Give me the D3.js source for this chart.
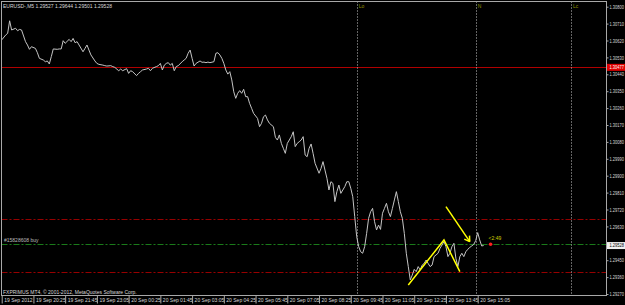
<!DOCTYPE html>
<meta charset="utf-8">
<script src="https://cdn.jsdelivr.net/npm/d3@7"></script>
<style type="text/css">
  body { margin: 0; background: #000; }
  svg text { font-family: "Liberation Sans", Arial, sans-serif; font-size: 5px; fill: #d8d8d8; }
  .price { fill: none; stroke: #c4c4c4; stroke-width: 1; }
  .frame { fill: none; stroke: #a8a8a8; stroke-width: 1; }
  .session { stroke: #c8c8c8; stroke-width: 1; stroke-dasharray: 1,2; }
  .draw { fill: none; stroke: #ffff00; stroke-width: 1.5; }
</style>
<body>
<script>

// EURUSD M5 closes (bar index from 19 Sep 19:05)
var bars = [0,2,3,4,5,7,8,9,10,12,13,14,15,17,18,19,21,22,23,24,25,26,28,29,30,31,32,34,35,36,37,38,39,41,42,43,44,45,47,48,49,51,52,53,55,56,57,59,60,61,63,64,65,66,68,69,70,71,73,74,75,76,78,79,80,81,82,83,84,85,86,87,88,89,91,92,93,94,95,96,97,98,100,101,102,103,104,105,107,108,109,110,111,112,113,114,115,116,117,118,119,120,121,122,123,124,125,126,127,129,130,131,132,133,134,135,137,138,139,140,141,142,143,144,146,147,148,149,150,151,152,153,154,155,156,157,158,160,161,162,163,164,165,166,167,168,169,170,171,173,174,175,176,177,178,179,180,181,182,183,184,185,186,187,188,189,190,191,192,193,194,195,196,197,198,199,200,201,202,203,204,205,206,207,208,209,210,211,212,213,214,215,216,217,218,219,220,221,222,223,224,225,226,227,228,229,230,231,232,233,234,235,236,237,238,239,240,241,242,243];
var closes = [1.30623,1.30649,1.30658,1.30725,1.30676,1.30685,1.30672,1.30679,1.30676,1.30614,1.30596,1.30573,1.30587,1.30578,1.30555,1.30525,1.30516,1.30507,1.30511,1.30495,1.30534,1.30575,1.30573,1.30575,1.30575,1.30619,1.30605,1.30626,1.30614,1.30631,1.30608,1.30614,1.30596,1.30560,1.30578,1.30596,1.30569,1.30543,1.30511,1.30498,1.30493,1.30489,1.30486,1.30484,1.30486,1.30481,1.30477,1.30459,1.30468,1.30459,1.30470,1.30445,1.30459,1.30454,1.30433,1.30445,1.30454,1.30463,1.30468,1.30472,1.30459,1.30472,1.30481,1.30486,1.30498,1.30463,1.30489,1.30498,1.30502,1.30489,1.30498,1.30459,1.30481,1.30486,1.30507,1.30516,1.30525,1.30552,1.30569,1.30525,1.30484,1.30498,1.30511,1.30504,1.30505,1.30502,1.30505,1.30502,1.30507,1.30552,1.30555,1.30543,1.30525,1.30498,1.30463,1.30441,1.30454,1.30410,1.30347,1.30312,1.30339,1.30353,1.30339,1.30360,1.30321,1.30321,1.30285,1.30259,1.30232,1.30205,1.30161,1.30179,1.30214,1.30223,1.30197,1.30179,1.30161,1.30104,1.30090,1.30117,1.30072,1.30046,1.30019,1.30072,1.30108,1.30134,1.30055,1.30072,1.30081,1.30090,1.30108,1.30010,1.30001,1.30046,1.30069,1.30019,1.29966,1.29913,1.29939,1.29975,1.29930,1.29886,1.29824,1.29868,1.29859,1.29762,1.29815,1.29850,1.29806,1.29842,1.29868,1.29868,1.29833,1.29788,1.29682,1.29575,1.29522,1.29495,1.29487,1.29522,1.29593,1.29673,1.29708,1.29726,1.29655,1.29611,1.29637,1.29614,1.29700,1.29726,1.29753,1.29708,1.29682,1.29726,1.29771,1.29815,1.29762,1.29708,1.29673,1.29593,1.29487,1.29416,1.29345,1.29371,1.29401,1.29389,1.29416,1.29398,1.29424,1.29433,1.29451,1.29433,1.29416,1.29424,1.29469,1.29478,1.29487,1.29513,1.29531,1.29549,1.29522,1.29469,1.29487,1.29522,1.29540,1.29460,1.29416,1.29469,1.29487,1.29469,1.29495,1.29508,1.29518,1.29526,1.29534,1.29554,1.29597,1.29558,1.29526,1.29528];

var timeTicks = [0,16,32,48,64,80,96,112,128,144,160,176,192,208,224,240];
var timeLabels = ["19 Sep 2012","19 Sep 20:25","19 Sep 21:45","19 Sep 23:05","20 Sep 00:25","20 Sep 01:45",
  "20 Sep 03:05","20 Sep 04:25","20 Sep 05:45","20 Sep 07:05","20 Sep 08:25","20 Sep 09:45",
  "20 Sep 11:05","20 Sep 12:25","20 Sep 13:45","20 Sep 15:05"];
// 1.29540 sits under the bid tag, so it is not listed
var priceTicks = [1.30800,1.30710,1.30620,1.30530,1.30440,1.30350,1.30260,1.30170,1.30080,1.29990,
  1.29900,1.29810,1.29720,1.29630,1.29450,1.29360,1.29270];

// session separators (London open, New York, London close)
var sessionBars = [179, 239, 287];
var sessionLabels = ["Lo", "N", "Lc"];

// horizontal objects
var hLinePrice = 1.30477;
var tpPrice = 1.29668;
var slPrice = 1.29389;
var orderPrice = 1.29535;
var orderLabel = "#15828608 buy";
var bidPrice = 1.29528;
var timerBar = 246.5;
var timerText = "<2:49";

// hand drawn trend lines [bar, price]
var zigzag = [[205, 1.29318], [223, 1.29558], [231, 1.29389]];
var arrowLine = [[224, 1.29735], [236, 1.29549]];

var title = "EURUSD-,M5  1.29527 1.29644 1.29501 1.29528";
var copyright = "FXPRIMUS MT4, \u00a9 2001-2012, MetaQuotes Software Corp.";

var W = 625, H = 305;
var plot = {left: 1.5, right: 606.5, top: 1.5, bottom: 295.5};
var squeeze = 0.8;   // price labels are narrowed to fit the strip

var svg = d3.select("body").append("svg")
    .attr("width", W)
    .attr("height", H)
    .style("display", "block")
    .style("background", "#000");

var xScale = d3.scaleLinear().domain([0, 240]).range([1.7, 477.7]);
var yScale = d3.scaleLinear().domain([1.29270, 1.30800]).range([294, 6.7]);

svg.append("clipPath").attr("id", "clip")
  .append("rect")
    .attr("x", plot.left).attr("y", plot.top)
    .attr("width", plot.right - plot.left).attr("height", plot.bottom - plot.top);

var g = svg.append("g").attr("clip-path", "url(#clip)");

// horizontal levels
function hline(price, color, dash) {
  g.append("line")
    .attr("x1", plot.left).attr("x2", plot.right)
    .attr("y1", Math.round(yScale(price)) + 0.5).attr("y2", Math.round(yScale(price)) + 0.5)
    .style("stroke", color)
    .style("stroke-width", 1)
    .style("stroke-dasharray", dash);
}
hline(hLinePrice, "#b00000", null);
hline(tpPrice, "#960000", "6,2,2,2");
hline(slPrice, "#960000", "6,2,2,2");
hline(orderPrice, "#1a7a1a", "6,2,2,2");

// session lines
g.selectAll(".session")
  .data(sessionBars)
  .enter().append("line")
    .attr("class", "session")
    .attr("x1", d => Math.round(xScale(d)) + 0.5).attr("x2", d => Math.round(xScale(d)) + 0.5)
    .attr("y1", plot.top).attr("y2", plot.bottom);

g.selectAll(".sessionLabel")
  .data(sessionBars)
  .enter().append("text")
    .attr("x", d => xScale(d) + 2)
    .attr("y", 8)
    .style("fill", "#909000")
    .text((d, i) => sessionLabels[i]);

// price line
var line = d3.line()
    .x((d, i) => xScale(bars[i]))
    .y(d => yScale(d));

g.append("path")
  .attr("class", "price")
  .attr("d", line(closes));

// trend lines
var tl = d3.line().x(d => xScale(d[0])).y(d => yScale(d[1]));
g.append("path").attr("class", "draw").attr("d", tl(zigzag));
g.append("path").attr("class", "draw").attr("d", tl(arrowLine));

// arrow head
var tipX = xScale(arrowLine[1][0]), tipY = yScale(arrowLine[1][1]);
var ang = Math.atan2(tipY - yScale(arrowLine[0][1]), tipX - xScale(arrowLine[0][0]));
[-0.55, 0.55].forEach(function(a) {
  g.append("line")
    .attr("class", "draw")
    .attr("x1", tipX).attr("y1", tipY)
    .attr("x2", tipX - 6 * Math.cos(ang + a))
    .attr("y2", tipY - 6 * Math.sin(ang + a));
});

// order label, timer
g.append("text")
  .attr("x", 4).attr("y", yScale(orderPrice) - 2.5)
  .style("fill", "#bbbbbb")
  .text(orderLabel);

g.append("circle")
  .attr("cx", xScale(timerBar)).attr("cy", yScale(orderPrice))
  .attr("r", 1.8)
  .style("fill", "#ff2020");

g.append("text")
  .attr("x", xScale(timerBar) - 2).attr("y", yScale(orderPrice) - 4)
  .style("fill", "#d0d000")
  .text(timerText);

// header & footer text
svg.append("text").attr("x", 3).attr("y", 7.5).text(title);
svg.append("text").attr("x", 3).attr("y", 294).text(copyright);

// frame
svg.append("rect")
  .attr("class", "frame")
  .attr("x", plot.left).attr("y", plot.top)
  .attr("width", plot.right - plot.left).attr("height", plot.bottom - plot.top);

// price axis
var yAxis = d3.axisRight(yScale)
    .tickValues(priceTicks)
    .tickFormat(d3.format(".5f"))
    .tickSize(2)
    .tickPadding(1);

var yAxisG = svg.append("g")
    .attr("transform", "translate(" + plot.right + ",0)")
    .call(yAxis);
yAxisG.select(".domain").remove();
yAxisG.selectAll("line").style("stroke", "#a8a8a8");
yAxisG.selectAll("text")
    .attr("x", 0)
    .attr("transform", "translate(3,0) scale(" + squeeze + ",1)")
    .style("font-size", "5px").style("font-family", null).style("fill", "#d8d8d8");

// time axis
var xAxis = d3.axisBottom(xScale)
    .tickValues(timeTicks)
    .tickFormat((d, i) => timeLabels[i])
    .tickSize(8);

var xAxisG = svg.append("g")
    .attr("transform", "translate(0," + plot.bottom + ")")
    .call(xAxis);
xAxisG.select(".domain").remove();
xAxisG.selectAll("line").style("stroke", "#a8a8a8");
xAxisG.selectAll("text")
    .attr("x", 2).attr("y", 3).attr("dy", "0.71em")
    .style("text-anchor", "start")
    .style("font-size", "5px").style("font-family", null).style("fill", "#d8d8d8");

// price tags on the axis
function tag(price, fill, color) {
  var yy = yScale(price);
  svg.append("rect")
    .attr("x", plot.right + 0.5).attr("y", yy - 3.5)
    .attr("width", W - plot.right).attr("height", 7)
    .style("fill", fill);
  svg.append("text")
    .attr("transform", "translate(" + (plot.right + 3) + "," + (yy + 1.8) + ") scale(" + squeeze + ",1)")
    .style("fill", color)
    .text(d3.format(".5f")(price));
}
tag(hLinePrice, "#e00000", "#ffffff");
tag(bidPrice, "#f0f0f0", "#000000");

</script>
</body>
</html>
